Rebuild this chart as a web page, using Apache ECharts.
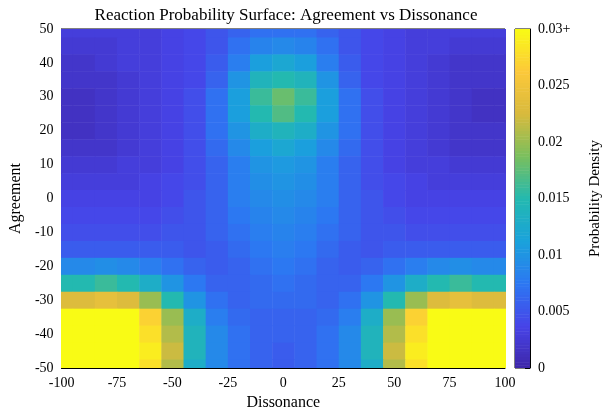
<!DOCTYPE html><html><head><meta charset="utf-8"><script src="https://cdn.jsdelivr.net/npm/echarts@6/dist/echarts.min.js"></script></head><body style="margin:0"><div id="c" style="width:605px;height:416px"></div><script>
const xs=[-100,-90,-80,-70,-60,-50,-40,-30,-20,-10,0,10,20,30,40,50,60,70,80,90,100];
const ys=[50,45,40,35,30,25,20,15,10,5,0,-5,-10,-15,-20,-25,-30,-35,-40,-45,-50];
// density in units of 0.001, rows top (y=50) to bottom (y=-50)
const density=[
[3,3,3,3,3,3.5,4,5,6,7,7,7,6,5,4,3.5,3,3,3,3,3],
[2.5,2.5,2.5,3,3,3.5,4,5,7,8.5,9,8.5,7,5,4,3.5,3,3,2.5,2.5,2.5],
[2,2,2.5,3,3,3.5,4,5.5,8,11,12,11,8,5.5,4,3.5,3,2.5,2,2,2],
[2,2,2,2.5,3,3.5,4,6,10,14,15,14,10,6,4,3.5,3,2.5,2,2,2],
[1.5,1.5,2,2.5,3,3.5,4.5,7,11,16,18,16,11,7,4.5,3.5,3,2.5,2,1.5,1.5],
[1.5,1.5,2,2.5,3,3.5,4.5,7,11,15,17,15,11,7,4.5,3.5,3,2.5,2,1.5,1.5],
[1.5,1.5,2,2.5,3,3.5,4.5,7,10,13,14,13,10,7,4.5,3.5,3,2.5,2,2,2],
[2,2,2,2.5,3,3.5,4.5,6.5,9,11,12,11,9,6.5,4.5,3.5,3,2.5,2,2,2],
[2.5,2.5,2.5,3,3,3.5,4.5,6,8,10,10.5,10,8,6,4.5,3.5,3,3,2.5,2.5,2.5],
[3,3,3,3,3.5,4,4.5,6,8,9.5,10,9.5,8,6,4.5,4,3.5,3,3,3,3],
[3.5,3.5,3.5,3.5,3.5,4,5,6,8,9,9.5,9,8,6,5,4,3.5,3.5,3.5,3.5,3.5],
[4,4,4,4,4,4.5,5,6,7.5,8.5,9,8.5,7.5,6,5,4.5,4,4,4,4,4],
[4.5,4.5,4.5,4.5,4.5,5,5,6,7,8,8.5,8,7,6,5,5,4.5,4.5,4.5,4.5,4.5],
[5.5,5.5,5.5,5.5,5.5,5.5,5,5.5,6.5,7.5,8,7.5,6.5,5.5,5,5.5,5.5,5.5,5.5,5.5,5.5],
[9,9,9.5,9,8,7,6,5.5,6,7,7.5,7,6,5.5,6,7,8,9,9.5,9,9],
[15,15,16,15,13,10,7.5,6,6,6.5,7,6.5,6,6,7.5,10,13,15,16,15,15],
[23,23,24,23,20,15,10,7,6,6.5,6.5,6.5,6,7,10,15,20,23,24,23,23],
[30,30,31,30,27,20,13,8,6.5,6,6,6,6.5,8,13,20,27,30,31,30,30],
[32,33,33,32,28,21,14,9,7,6,6,6,7,9,14,21,28,32,33,33,32],
[33,34,34,33,29,22,14,9,7,6,5.5,6,7,9,14,22,29,33,34,34,33],
[32,33,33,32,28,21,13,9,7,6,5.5,6,7,9,13,21,28,32,33,33,32]];
const cbTicks=[0,5,10,15,20,25,30];
const cbLabels=['0','0.005','0.01','0.015','0.02','0.025','0.03+'];
const data=[];ys.forEach((y,i)=>xs.forEach((x,j)=>data.push([x,y,density[i][j]])));
const cb=[];for(let v=0;v<30;v+=0.25)cb.push([0,v,v+0.125]);
const F='Liberation Serif';
const parula=['#3e26a8','#4744e8','#2c78f2','#1aa2db','#23b9b0','#7abf5d','#d8ba3d','#fcc83a','#f9fb15'];
const ch=echarts.init(document.getElementById('c'));
const ax={axisLine:{show:true,onZero:false,lineStyle:{color:'#000'}},axisTick:{inside:true,lineStyle:{color:'#000'}},splitLine:{show:false},axisLabel:{color:'#000',fontFamily:F,fontSize:14}};
ch.setOption({animation:false,
title:{text:'Reaction Probability Surface: Agreement vs Dissonance',left:281,top:2,textAlign:'center',textStyle:{fontFamily:F,fontWeight:'normal',fontSize:17,color:'#000'}},
grid:[{left:57,right:100,top:29,bottom:48,show:true,borderColor:'#000',backgroundColor:'transparent'},{left:515,width:15,top:29,bottom:48,show:true,borderColor:'#000'}],
xAxis:[Object.assign({},ax,{type:'value',min:-100,max:100,interval:25,name:'Dissonance',nameLocation:'middle',nameGap:22,nameTextStyle:{fontFamily:F,fontSize:16,color:'#000'}}),
{gridIndex:1,type:'value',min:-0.5,max:0.5,show:false}],
yAxis:[Object.assign({},ax,{type:'value',min:-50,max:50,interval:10,name:'Agreement',nameLocation:'middle',nameGap:35,nameTextStyle:{fontFamily:F,fontSize:16,color:'#000'}}),
Object.assign({},ax,{gridIndex:1,type:'value',min:0,max:30,interval:5,position:'right',name:'Probability Density',nameLocation:'middle',nameGap:58,nameRotate:90,nameTextStyle:{fontFamily:F,fontSize:15,color:'#000'},axisLabel:Object.assign({},ax.axisLabel,{formatter:v=>cbLabels[cbTicks.indexOf(v)]||''})})],
visualMap:{show:false,min:0,max:30,dimension:2,seriesIndex:[0,1],inRange:{color:parula}},
series:[{type:'custom',clip:true,data:data,renderItem:(p,api)=>{const a=api.coord([api.value(0)-5,api.value(1)+2.5]);const b=api.coord([api.value(0)+5,api.value(1)-2.5]);return{type:'rect',shape:{x:a[0],y:a[1],width:b[0]-a[0]+0.5,height:b[1]-a[1]+0.5},style:{fill:api.visual('color')}};}},
{type:'custom',xAxisIndex:1,yAxisIndex:1,clip:true,data:cb,renderItem:(p,api)=>{const a=api.coord([-0.5,api.value(1)+0.25]);const b=api.coord([0.5,api.value(1)]);return{type:'rect',shape:{x:a[0],y:a[1],width:b[0]-a[0],height:b[1]-a[1]+0.5},style:{fill:api.visual('color')}};}}]});
</script></body></html>
